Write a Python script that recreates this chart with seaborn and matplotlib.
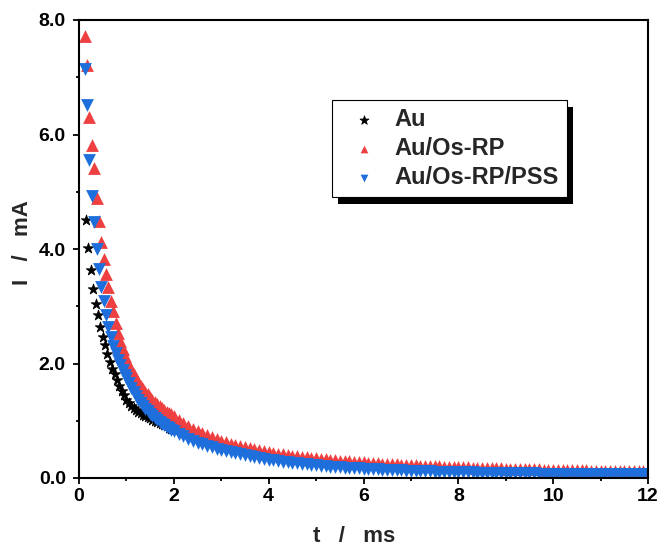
import matplotlib
matplotlib.use("Agg")
import matplotlib.pyplot as plt
from matplotlib.patches import Rectangle
from matplotlib.ticker import MultipleLocator, FormatStrFormatter
import seaborn as sns

# time base (ms) for the two Os-RP electrodes
t_early = [0.12, 0.17, 0.22, 0.27, 0.32, 0.37, 0.42, 0.47, 0.52, 0.57,
           0.62, 0.67, 0.72, 0.77, 0.82, 0.87, 0.92, 0.97]
t_mid = [1.00, 1.05, 1.10, 1.15, 1.20, 1.25, 1.30, 1.35, 1.40, 1.45,
         1.50, 1.55, 1.60, 1.65, 1.70, 1.75, 1.80, 1.85, 1.90, 1.95, 2.00]
t_tail = [2.1, 2.2, 2.3, 2.4, 2.5, 2.6, 2.7, 2.8, 2.9, 3.0,
          3.1, 3.2, 3.3, 3.4, 3.5, 3.6, 3.7, 3.8, 3.9, 4.0,
          4.1, 4.2, 4.3, 4.4, 4.5, 4.6, 4.7, 4.8, 4.9, 5.0,
          5.1, 5.2, 5.3, 5.4, 5.5, 5.6, 5.7, 5.8, 5.9, 6.0,
          6.1, 6.2, 6.3, 6.4, 6.5, 6.6, 6.7, 6.8, 6.9, 7.0,
          7.1, 7.2, 7.3, 7.4, 7.5, 7.6, 7.7, 7.8, 7.9, 8.0,
          8.1, 8.2, 8.3, 8.4, 8.5, 8.6, 8.7, 8.8, 8.9, 9.0,
          9.1, 9.2, 9.3, 9.4, 9.5, 9.6, 9.7, 9.8, 9.9, 10.0,
          10.1, 10.2, 10.3, 10.4, 10.5, 10.6, 10.7, 10.8, 10.9, 11.0,
          11.1, 11.2, 11.3, 11.4, 11.5, 11.6, 11.7, 11.8, 11.9, 12.0]

# Au/Os-RP (red)
i_rp_early = [7.72, 7.22, 6.30, 5.82, 5.42, 4.89, 4.49, 4.12, 3.83, 3.56,
              3.33, 3.10, 2.91, 2.71, 2.54, 2.39, 2.25, 2.13]
i_rp_mid = [2.06, 1.97, 1.89, 1.81, 1.74, 1.67, 1.61, 1.56, 1.51, 1.46,
            1.41, 1.37, 1.33, 1.29, 1.26, 1.22, 1.19, 1.16, 1.13, 1.11, 1.08]
i_rp_tail = [1.017, 0.959, 0.907, 0.860, 0.817, 0.778, 0.743, 0.710, 0.679, 0.651,
             0.625, 0.600, 0.578, 0.557, 0.537, 0.518, 0.501, 0.484, 0.469, 0.454,
             0.441, 0.427, 0.415, 0.403, 0.392, 0.381, 0.371, 0.362, 0.353, 0.344,
             0.335, 0.327, 0.320, 0.312, 0.305, 0.298, 0.292, 0.286, 0.280, 0.274,
             0.268, 0.263, 0.258, 0.253, 0.248, 0.243, 0.238, 0.234, 0.230, 0.226,
             0.222, 0.218, 0.214, 0.211, 0.207, 0.204, 0.200, 0.197, 0.194, 0.191,
             0.188, 0.185, 0.182, 0.180, 0.177, 0.175, 0.172, 0.170, 0.167, 0.165,
             0.163, 0.160, 0.158, 0.156, 0.154, 0.152, 0.150, 0.148, 0.146, 0.145,
             0.143, 0.141, 0.139, 0.138, 0.136, 0.134, 0.133, 0.131, 0.130, 0.128,
             0.127, 0.125, 0.124, 0.123, 0.121, 0.120, 0.119, 0.118, 0.116, 0.115]

# Au/Os-RP/PSS (blue)
i_pss_early = [7.15, 6.51, 5.55, 4.92, 4.47, 4.00, 3.65, 3.34, 3.10, 2.85,
               2.64, 2.46, 2.30, 2.18, 2.06, 1.97, 1.88, 1.80]
i_pss_mid = [1.75, 1.66, 1.58, 1.50, 1.43, 1.37, 1.31, 1.26, 1.21, 1.17,
             1.12, 1.08, 1.05, 1.01, 0.98, 0.95, 0.92, 0.89, 0.87, 0.84, 0.82]
i_pss_tail = [0.771, 0.727, 0.688, 0.652, 0.619, 0.589, 0.562, 0.537, 0.513, 0.492,
              0.472, 0.454, 0.436, 0.420, 0.400, 0.382, 0.365, 0.349, 0.334, 0.320,
              0.307, 0.295, 0.284, 0.273, 0.263, 0.254, 0.245, 0.236, 0.228, 0.221,
              0.213, 0.207, 0.200, 0.194, 0.188, 0.183, 0.177, 0.172, 0.167, 0.163,
              0.158, 0.154, 0.150, 0.146, 0.143, 0.139, 0.136, 0.132, 0.129, 0.126,
              0.123, 0.120, 0.118, 0.115, 0.113, 0.111, 0.109, 0.107, 0.105, 0.103,
              0.101, 0.099, 0.098, 0.096, 0.095, 0.093, 0.091, 0.090, 0.089, 0.087,
              0.086, 0.084, 0.083, 0.082, 0.081, 0.080, 0.078, 0.077, 0.076, 0.075,
              0.075, 0.074, 0.074, 0.074, 0.073, 0.073, 0.073, 0.072, 0.072, 0.072,
              0.071, 0.071, 0.070, 0.070, 0.070, 0.069, 0.069, 0.069, 0.068, 0.068]

# bare Au (black stars) - only the visible part, later hidden under the others
t_au = [0.15, 0.20, 0.25, 0.30, 0.35, 0.40, 0.45, 0.50, 0.55, 0.60,
        0.65, 0.70, 0.75, 0.80, 0.85, 0.90, 0.95, 1.00, 1.05, 1.10,
        1.15, 1.20, 1.25, 1.30, 1.35, 1.40, 1.45, 1.50, 1.55, 1.60,
        1.65, 1.70, 1.75, 1.80, 1.85, 1.90, 1.95, 2.00]
i_au = [4.50, 4.02, 3.63, 3.30, 3.04, 2.85, 2.64, 2.47, 2.32, 2.17,
        2.03, 1.91, 1.81, 1.71, 1.61, 1.52, 1.45, 1.37, 1.31, 1.26,
        1.22, 1.19, 1.16, 1.13, 1.10, 1.08, 1.06, 1.04, 1.02, 1.00,
        0.98, 0.96, 0.94, 0.92, 0.90, 0.88, 0.86, 0.84]

labels = ["Au", "Au/Os-RP", "Au/Os-RP/PSS"]

t_os = t_early + t_mid + t_tail
i_rp = i_rp_early + i_rp_mid + i_rp_tail
i_pss = i_pss_early + i_pss_mid + i_pss_tail

sns.set_style("ticks")
plt.rcParams["font.family"] = ["Liberation Sans", "DejaVu Sans"]
plt.rcParams["font.weight"] = "bold"

fig, ax = plt.subplots(figsize=(6.59, 5.46), dpi=100)
fig.subplots_adjust(left=79/659, right=648/659, top=1-20/546, bottom=1-478/546)

sns.scatterplot(x=t_au, y=i_au, marker="*", color="black", s=62,
                edgecolor="black", linewidth=0.6, label=labels[0], ax=ax)
sns.scatterplot(x=t_os, y=i_rp, marker="^", color="#EE4040", s=85, linewidth=0,
                label=labels[1], ax=ax)
sns.scatterplot(x=t_os, y=i_pss, marker="v", color="#1E6FDC", s=85, linewidth=0,
                label=labels[2], ax=ax)

ax.set_xlim(0, 12)
ax.set_ylim(0, 8)
ax.xaxis.set_major_locator(MultipleLocator(2))
ax.xaxis.set_minor_locator(MultipleLocator(1))
ax.yaxis.set_major_locator(MultipleLocator(2))
ax.yaxis.set_minor_locator(MultipleLocator(1))
ax.yaxis.set_major_formatter(FormatStrFormatter("%.1f"))
ax.tick_params(which="major", direction="out", length=4.5, width=1.3,
               labelsize=14, color="black", labelcolor="black")
ax.tick_params(which="minor", direction="out", length=2.5, width=1.3, color="black")
ax.tick_params(axis="y", pad=5)
ax.tick_params(axis="x", pad=3)
ax.tick_params(top=False, right=False, bottom=True, left=True, which="both")
for sp in ax.spines.values():
    sp.set_visible(True)
    sp.set_linewidth(1.5)
    sp.set_color("black")

ax.set_xlabel("t   /   ms", fontsize=16, fontweight="bold", va="center")
ax.xaxis.set_label_coords(0.483, -0.128)
ax.set_ylabel("I   /   mA", fontsize=16, fontweight="bold", va="center")
ax.yaxis.set_label_coords(-0.1, 0.513)

leg = ax.legend(loc="upper left", bbox_to_anchor=(331.7/659, 1-100/546),
                bbox_transform=fig.transFigure, borderaxespad=0,
                prop={"weight": "bold", "size": 17}, frameon=True, fancybox=False,
                framealpha=1, edgecolor="black", borderpad=0.35, handlelength=2.0,
                handletextpad=0.3, labelspacing=0.25, markerscale=0.6)
leg.get_frame().set_linewidth(0.8)
leg.legend_handles[0].set_sizes([45])

# solid black drop shadow like the original legend box
fig.canvas.draw()
bb = leg.get_frame().get_window_extent()
inv = ax.transAxes.inverted()
off = 6.5
x0, y0 = inv.transform((bb.x0 + off, bb.y0 - off))
x1, y1 = inv.transform((bb.x1 + off, bb.y1 - off))
ax.add_patch(Rectangle((x0, y0), x1 - x0, y1 - y0, transform=ax.transAxes,
                       facecolor="black", edgecolor="none",
                       zorder=leg.get_zorder() - 0.5, clip_on=False))

fig.savefig("out.png", dpi=100)
